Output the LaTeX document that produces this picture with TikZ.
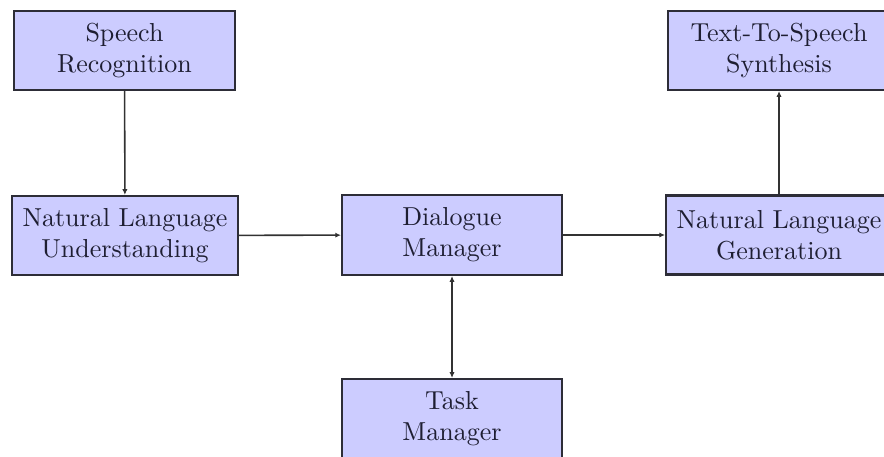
\documentclass[tikz,border=0pt]{standalone}
\usetikzlibrary{arrows.meta}
\definecolor{boxfill}{RGB}{204,204,255}
\definecolor{boxline}{RGB}{45,45,55}
\definecolor{linkline}{RGB}{50,50,50}
\definecolor{labeltext}{RGB}{30,30,50}
\begin{document}
\begin{tikzpicture}[x=0.3846pt,y=-0.3846pt,
  module/.style={draw=boxline, line width=0.8pt, fill=boxfill, align=center,
    text=labeltext, minimum height=30.4pt, inner sep=2pt},
  link/.style={draw=linkline, line width=0.6pt, -{Latex[length=2.2pt,width=2pt]}},
  duallink/.style={draw=linkline, line width=0.6pt, {Latex[length=2.2pt,width=2pt]}-{Latex[length=2.2pt,width=2pt]}}]
  \useasboundingbox (0,0) rectangle (884,457);
  \node[module, minimum width=85pt]   (sr)  at (124.5,50.5) {Speech\\Recognition};
  \node[module, minimum width=86.9pt] (nlu) at (125,235.5) {Natural Language\\Understanding};
  \node[module, minimum width=84.6pt, minimum height=30.8pt] (dm) at (452,235) {Dialogue\\Manager};
  \node[module, minimum width=86.9pt] (nlg) at (779,235) {Natural Language\\Generation};
  \node[module, minimum width=85.4pt] (tts) at (779,50.5) {Text-To-Speech\\Synthesis};
  \node[module, minimum width=84.6pt, minimum height=30.8pt] (tm) at (452,419) {Task\\Manager};
  \draw[link] (sr) -- (nlu);
  \draw[link] (nlu) -- (dm);
  \draw[link] (dm) -- (nlg);
  \draw[link] (nlg) -- (tts);
  \draw[duallink] (dm) -- (tm);
\end{tikzpicture}
\end{document}
